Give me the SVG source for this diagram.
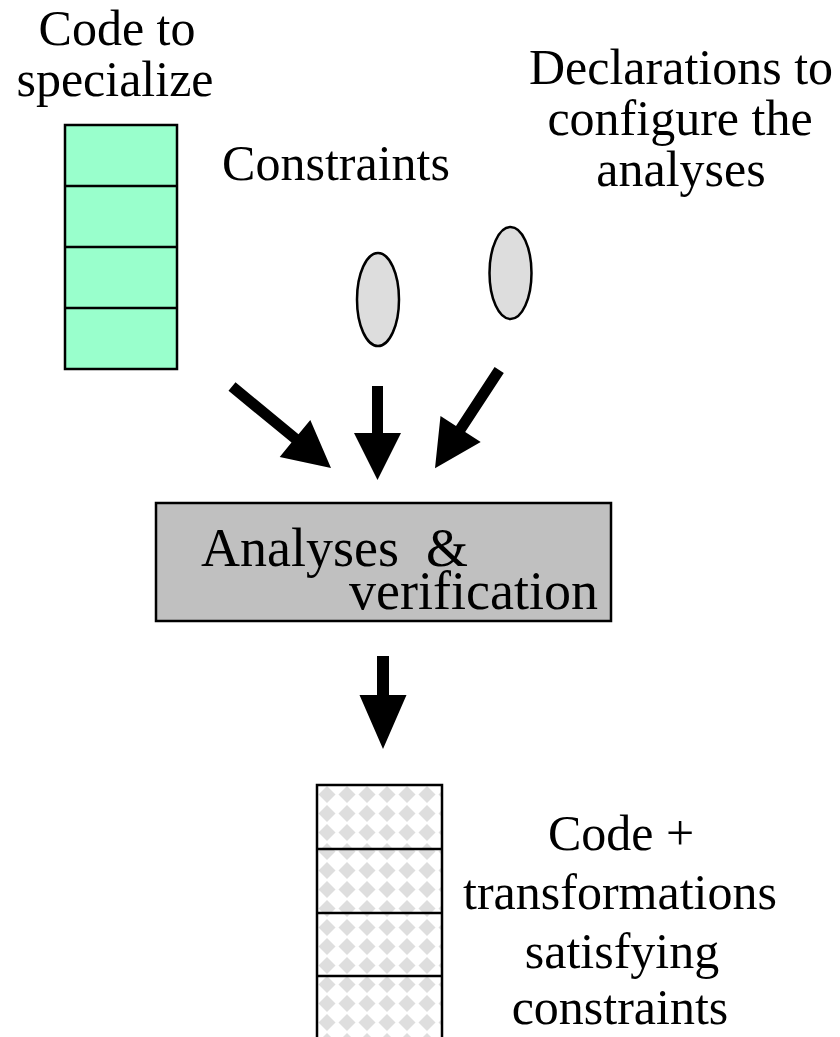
<svg xmlns="http://www.w3.org/2000/svg" width="840" height="1037" viewBox="0 0 840 1037">
  <defs>
    <style>
      .lbl { font-family: "Liberation Serif", "Times New Roman", serif; font-size: 50px; fill: #000; }
      .big { font-size: 54px; }
      .box { stroke: #000; stroke-width: 2.5; }
      .div { stroke: #000; stroke-width: 2.5; fill: none; }
      .oval { fill: #dddddd; stroke: #000; stroke-width: 2.5; }
      .arrow { fill: #000; stroke: none; }
    </style>
    <!-- grey diamond tiling used for the output code stack -->
    <pattern id="diamonds" x="317" y="785" width="20" height="19" patternUnits="userSpaceOnUse">
      <rect width="20" height="19" fill="#ffffff"/>
      <polygon points="10,1 18.5,9.5 10,18 1.5,9.5" fill="#dedede"/>
    </pattern>
  </defs>

  <rect width="840" height="1037" fill="#ffffff"/>

  <!-- input code stack -->
  <g id="code-input">
    <rect class="box" x="65" y="125" width="112" height="244" fill="#99ffcc"/>
    <line class="div" x1="65" y1="186" x2="177" y2="186"/>
    <line class="div" x1="65" y1="247" x2="177" y2="247"/>
    <line class="div" x1="65" y1="308" x2="177" y2="308"/>
    <text class="lbl" x="117" y="45" text-anchor="middle">Code to</text>
    <text class="lbl" x="115" y="96" text-anchor="middle">specialize</text>
  </g>

  <!-- constraints -->
  <g id="constraints">
    <ellipse class="oval" cx="378" cy="299.5" rx="21" ry="46.5"/>
    <text class="lbl" x="336" y="180" text-anchor="middle">Constraints</text>
  </g>

  <!-- analysis declarations -->
  <g id="declarations">
    <ellipse class="oval" cx="510.5" cy="273" rx="21" ry="46"/>
    <text class="lbl" x="681" y="84" text-anchor="middle">Declarations to</text>
    <text class="lbl" x="680" y="135" text-anchor="middle">configure the</text>
    <text class="lbl" x="681" y="186" text-anchor="middle">analyses</text>
  </g>

  <!-- analysis engine -->
  <g id="analyses">
    <rect class="box" x="156" y="503" width="455" height="118" fill="#c0c0c0" stroke-width="2"/>
    <text class="lbl big" x="201" y="566" xml:space="preserve">Analyses  &amp;</text>
    <text class="lbl big" x="598" y="609" text-anchor="end">verification</text>
  </g>

  <!-- output code stack -->
  <g id="code-output">
    <rect class="box" x="317" y="785" width="125" height="260" fill="url(#diamonds)"/>
    <line class="div" x1="317" y1="849" x2="442" y2="849"/>
    <line class="div" x1="317" y1="913" x2="442" y2="913"/>
    <line class="div" x1="317" y1="976" x2="442" y2="976"/>
    <text class="lbl" x="621" y="850" text-anchor="middle">Code +</text>
    <text class="lbl" x="620" y="909" text-anchor="middle">transformations</text>
    <text class="lbl" x="622" y="968" text-anchor="middle">satisfying</text>
    <text class="lbl" x="620" y="1024" text-anchor="middle">constraints</text>
  </g>

  <!-- block arrows -->
  <g id="connectors">
    <polygon class="arrow" points="235.5,382.3 298.5,434.2 310.3,419.9 331,468 279.7,456.9 291.5,442.6 228.5,390.8"/>
    <polygon class="arrow" points="372,386 383,386 383,433 401,433 377.5,480 354,433 372,433"/>
    <polygon class="arrow" points="494.6,367 503.8,373 465.2,432 480.7,442.1 435,468.3 440.5,415.9 456,426"/>
    <polygon class="arrow" points="377,656 389,656 389,695 406.5,695 383,749 359.5,695 377,695"/>
  </g>
</svg>
